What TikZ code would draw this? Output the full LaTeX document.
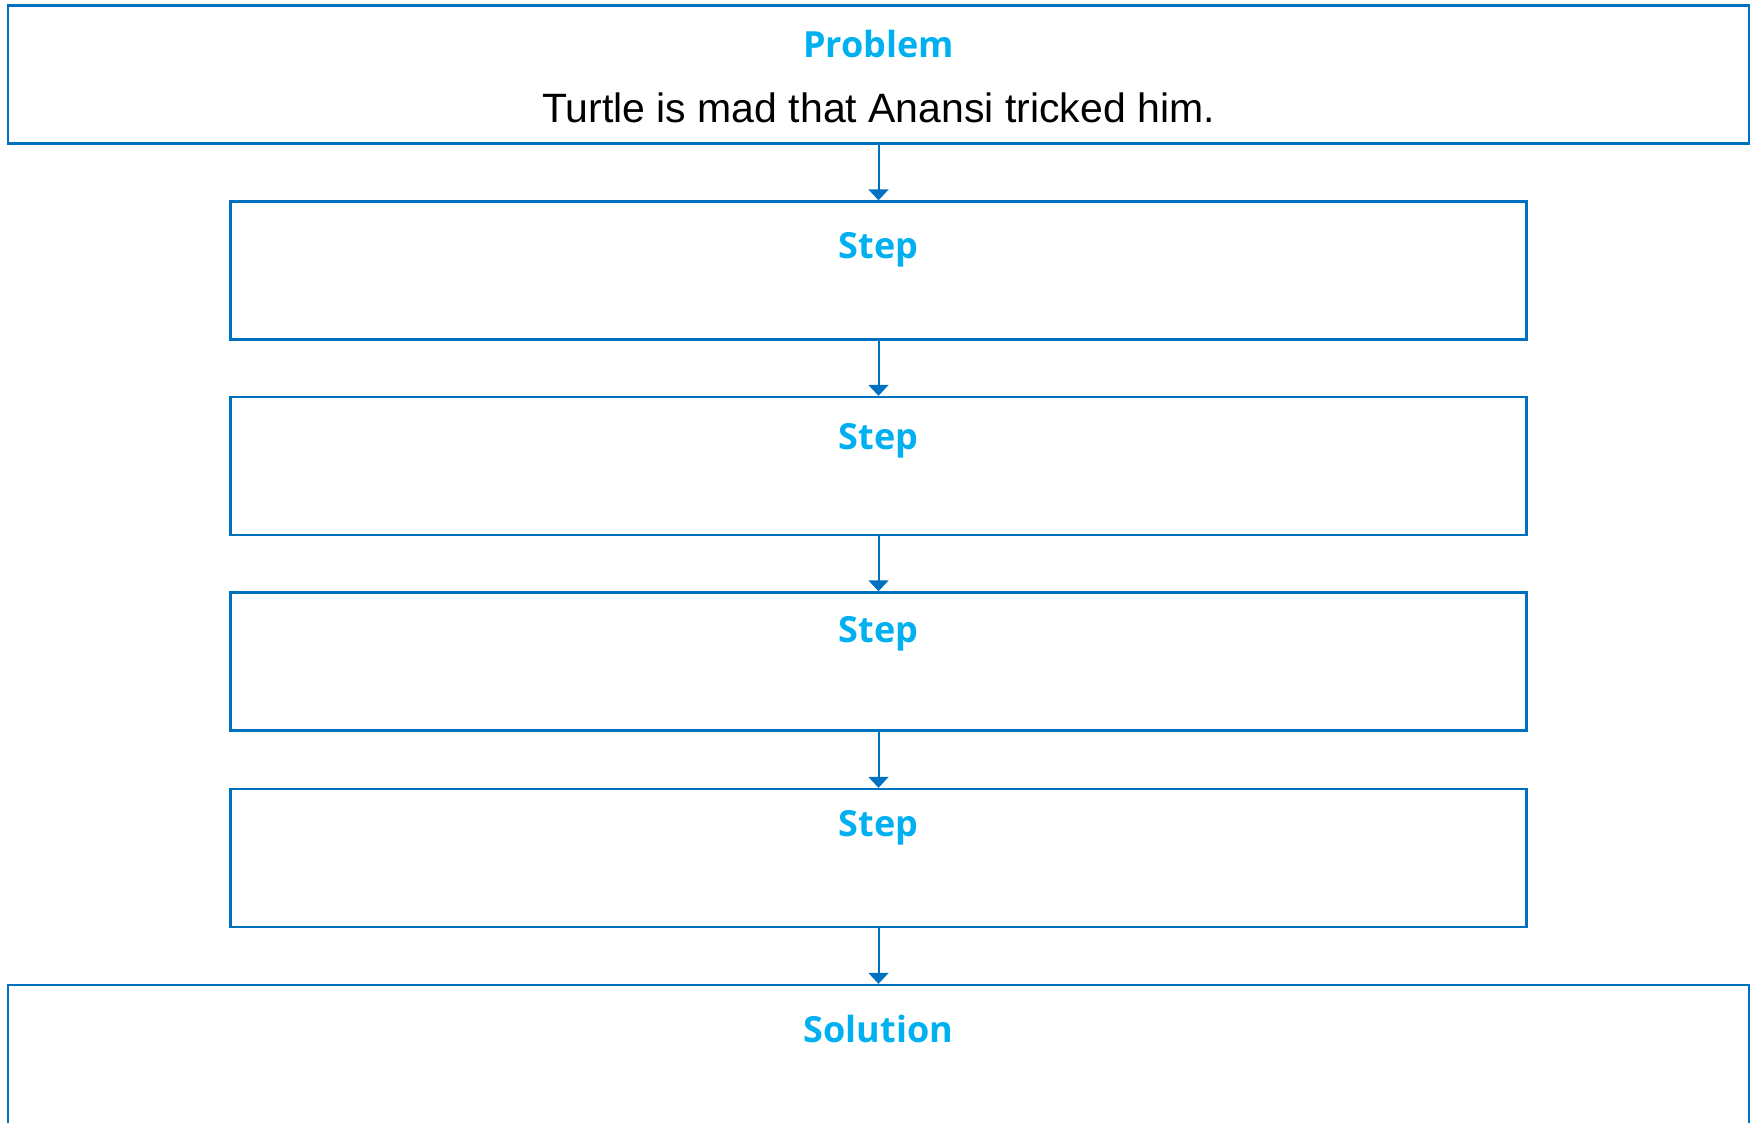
\documentclass[tikz,border=0pt]{standalone}
\usepackage{fontspec}
\setmainfont{Open Sans}
\newfontfamily\handfont{Liberation Sans}
\usetikzlibrary{arrows.meta}
\definecolor{boxblue}{HTML}{0070C0}
\definecolor{titlecyan}{HTML}{00B0F0}
\tikzset{
  wide/.style={draw=boxblue, line width=2.4pt, minimum width=1741pt, minimum height=138pt, inner sep=0pt},
  stepbox/.style={draw=boxblue, line width=2.4pt, minimum width=1296pt, minimum height=138pt, inner sep=0pt},
  ttl/.style={text=titlecyan, font=\fontsize{36}{42}\selectfont\bfseries, inner sep=0pt},
  hand/.style={text=black, font=\handfont\fontsize{41}{48}\selectfont, inner sep=0pt},
  conn/.style={draw=boxblue, line width=2pt, -{Triangle[width=20pt,length=11pt]}}
}
\begin{document}
\begin{tikzpicture}[x=1pt,y=-1pt]
\useasboundingbox (0,0) rectangle (1752,1123);
\clip (0,0) rectangle (1752,1123);
\node[wide] (prob) at (878.5,74.5) {};
\node[stepbox] (s1) at (878.5,270.5) {};
\node[stepbox] (s2) at (878.5,466) {};
\node[stepbox] (s3) at (878.5,661.5) {};
\node[stepbox] (s4) at (878.5,858) {};
\node[wide, minimum height=150pt] (sol) at (878.5,1060) {};
\node[ttl] (tp) at (878.5,44) {Problem};
\node[hand] (tt) at (878.5,108) {Turtle is mad that Anansi tricked him.};
\node[ttl] (t1) at (878.5,250) {Step};
\node[ttl] (t2) at (878.5,441) {Step};
\node[ttl] (t3) at (878.5,634) {Step};
\node[ttl] (t4) at (878.5,828) {Step};
\node[ttl] (ts) at (878.5,1029) {Solution};
\draw[conn] (prob.south) -- (s1.north);
\draw[conn] (s1.south) -- (s2.north);
\draw[conn] (s2.south) -- (s3.north);
\draw[conn] (s3.south) -- (s4.north);
\draw[conn] (s4.south) -- (sol.north);
\end{tikzpicture}
\end{document}
